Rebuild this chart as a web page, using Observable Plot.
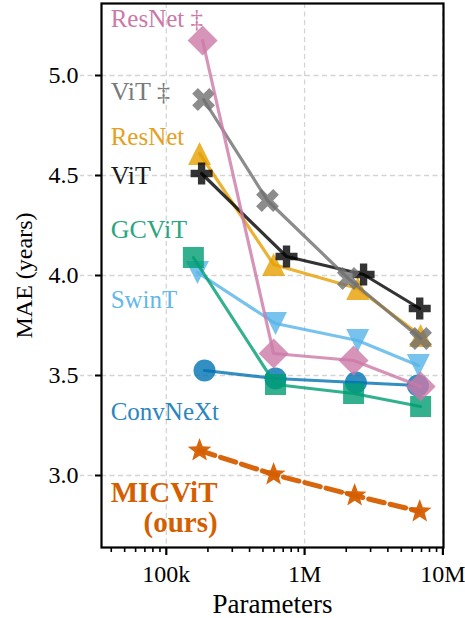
<!DOCTYPE html>
<html><head><meta charset="utf-8">
<script src="https://cdn.jsdelivr.net/npm/d3@7"></script>
<script src="https://cdn.jsdelivr.net/npm/@observablehq/plot@0.6"></script>
<style>body{margin:0;background:#fff;} #chart svg{display:block;}</style>
</head><body><div id="chart"></div>
<script>
// ---- data ----
const resnetDDParams = [183e3, 597e3, 2.26e6, 6.9e6];
const resnetDDMae    = [5.175, 3.61, 3.575, 3.445];
const vitDDParams    = [186e3, 539e3, 2.07e6, 6.9e6];
const vitDDMae       = [4.88, 4.375, 3.985, 3.685];
const resnetParams   = [174e3, 597e3, 2.42e6, 6.9e6];
const resnetMae      = [4.61, 4.055, 3.935, 3.70];
const vitParams      = [180e3, 740e3, 2.67e6, 6.8e6];
const vitMae         = [4.51, 4.095, 4.005, 3.835];
const gcvitParams    = [157e3, 616e3, 2.26e6, 6.9e6];
const gcvitMae       = [4.09, 3.455, 3.41, 3.345];
const swintParams    = [168e3, 616e3, 2.42e6, 6.65e6];
const swintMae       = [4.015, 3.76, 3.675, 3.55];
const convnextParams = [189e3, 616e3, 2.35e6, 6.6e6];
const convnextMae    = [3.525, 3.485, 3.465, 3.45];
const micvitParams   = [174e3, 597e3, 2.30e6, 6.8e6];
const micvitMae      = [3.125, 3.005, 2.90, 2.82];

const yTicks = [3.0, 3.5, 4.0, 4.5, 5.0];
const xTicks = [1e5, 1e6, 1e7];
const xTickLabels = ["100k", "1M", "10M"];

// ---- symbols ----
function polySymbol(pts) {
  return {draw(ctx, size) {
    const r = Math.sqrt(size / Math.PI);
    ctx.moveTo(pts[0][0] * r, pts[0][1] * r);
    for (let i = 1; i < pts.length; ++i) ctx.lineTo(pts[i][0] * r, pts[i][1] * r);
    ctx.closePath();
  }};
}
const a = 1 / 3;
const plusPts = [[-a,-1],[a,-1],[a,-a],[1,-a],[1,a],[a,a],[a,1],[-a,1],[-a,a],[-1,a],[-1,-a],[-a,-a]];
const c45 = Math.SQRT1_2;
const xPts = plusPts.map(([x, y]) => [(x - y) * c45 * 1.05, (x + y) * c45 * 1.05]);
const starPts = d3.range(10).map(i => {
  const ang = -Math.PI / 2 + i * Math.PI / 5, rr = i % 2 ? 0.42 : 1;
  return [rr * Math.cos(ang), rr * Math.sin(ang)];
});
const SYM = {
  diamond: polySymbol([[0,-1],[1,0],[0,1],[-1,0]]),
  square: polySymbol([[-1,-1],[1,-1],[1,1],[-1,1]]),
  triUp: polySymbol([[0,-1],[1,1],[-1,1]]),
  triDown: polySymbol([[0,1],[1,-1],[-1,-1]]),
  plus: polySymbol(plusPts),
  x: polySymbol(xPts),
  star: polySymbol(starPts),
  circle: "circle"
};

// drawing order follows the reference overlaps
const series = [
  {name: "ResNet", params: resnetParams, mae: resnetMae, color: "#E69F00", sym: SYM.triUp, r: 11.5},
  {name: "ViT", params: vitParams, mae: vitMae, color: "#000000", sym: SYM.plus, r: 11},
  {name: "SwinT", params: swintParams, mae: swintMae, color: "#56B4E9", sym: SYM.triDown, r: 11.5},
  {name: "ConvNeXt", params: convnextParams, mae: convnextMae, color: "#0072B2", sym: SYM.circle, r: 11},
  {name: "GCViT", params: gcvitParams, mae: gcvitMae, color: "#009E73", sym: SYM.square, r: 10.5},
  {name: "ViT ‡", params: vitDDParams, mae: vitDDMae, color: "#6f6f6f", sym: SYM.x, r: 11.5},
  {name: "ResNet ‡", params: resnetDDParams, mae: resnetDDMae, color: "#CC79A7", sym: SYM.diamond, r: 15},
];

const rowsOf = s => s.params.map((p, i) => ({model: s.name, params: p, mae: s.mae[i]}));

// label placement (layout, not data)
const SERIF = "Liberation Serif";
const labels = [
  {text: "ResNet ‡", x: 39.6e3, y: 5.283, color: "#CC79A7", size: 25},
  {text: "ViT ‡", x: 39.6e3, y: 4.92, color: "#7a7a7a", size: 26},
  {text: "ResNet", x: 39.6e3, y: 4.695, color: "#E6A020", size: 25},
  {text: "ViT", x: 39.6e3, y: 4.50, color: "#1a1a1a", size: 26},
  {text: "GCViT", x: 39.6e3, y: 4.23, color: "#2AA67F", size: 26},
  {text: "SwinT", x: 39.6e3, y: 3.88, color: "#62B8EA", size: 25},
  {text: "ConvNeXt", x: 39.6e3, y: 3.32, color: "#2A86BE", size: 25}
];

const minor = [];
for (const base of [1e4, 1e5, 1e6]) for (let k = 2; k <= 9; ++k) {
  const v = base * k; if (v > 34000 && !xTicks.includes(v)) minor.push(v);
}

const marks = [
  Plot.gridX(xTicks, {stroke: "#d4d4d4", strokeOpacity: 1, strokeWidth: 1.3, strokeDasharray: "5,3.5"}),
  Plot.gridY(yTicks, {stroke: "#d4d4d4", strokeOpacity: 1, strokeWidth: 1.3, strokeDasharray: "5,3.5"}),
  Plot.axisY(yTicks, {tickSize: 21, stroke: "#d4d4d4", strokeWidth: 1.3, strokeDasharray: "5,3.5", tickFormat: () => "", label: null}),
  Plot.axisY(yTicks, {tickSize: 6, strokeWidth: 2, tickPadding: 17, tickFormat: d3.format(".1f"),
    fontSize: 24, fontFamily: SERIF, label: "MAE (years)", labelAnchor: "center", labelOffset: 87, labelArrow: "none"}),
  Plot.axisX(minor, {tickSize: 5, strokeWidth: 1.6, tickFormat: () => "", label: null}),
  Plot.axisX(xTicks, {tickSize: 8, strokeWidth: 2.2, tickPadding: 9, fontSize: 24, fontFamily: SERIF,
    tickFormat: d => xTickLabels[xTicks.indexOf(d)], label: null}),
];

for (const s of series) {
  const rows = rowsOf(s);
  marks.push(Plot.line(rows, {x: "params", y: "mae", stroke: s.color, strokeWidth: 3.2, strokeOpacity: 0.8}));
  marks.push(Plot.dot(rows, {x: "params", y: "mae", symbol: s.sym, r: s.r, fill: s.color, fillOpacity: 0.8, stroke: "none"}));
}
const micRows = rowsOf({name: "MICViT (ours)", params: micvitParams, mae: micvitMae});
marks.push(Plot.line(micRows, {x: "params", y: "mae", stroke: "#D55E00", strokeWidth: 5, strokeDasharray: "16,6", strokeOpacity: 0.95}));
marks.push(Plot.dot(micRows, {x: "params", y: "mae", symbol: SYM.star, r: 12.5, fill: "#D55E00", fillOpacity: 0.95, stroke: "none"}));

for (const l of labels) {
  marks.push(Plot.text([l], {x: "x", y: "y", text: "text", fill: l.color, fontFamily: SERIF, fontSize: l.size,
    textAnchor: "start", lineAnchor: "middle"}));
}
marks.push(Plot.text(["MICViT"], {x: () => 39.6e3, y: () => 2.915, text: d => d, fill: "#D55E00", fontWeight: "bold", fontFamily: SERIF, fontSize: 29, textAnchor: "start", lineAnchor: "middle"}));
marks.push(Plot.text(["(ours)"], {x: () => 68.5e3, y: () => 2.765, text: d => d, fill: "#D55E00", fontWeight: "bold", fontFamily: SERIF, fontSize: 29, textAnchor: "start", lineAnchor: "middle"}));

marks.push(Plot.frame({stroke: "#000", strokeWidth: 2.2}));
marks.push(Plot.text(["Parameters"], {frameAnchor: "bottom", text: d => d, fontSize: 27, fontFamily: SERIF, dy: 65, lineAnchor: "bottom", fill: "#000"}));

const chart = Plot.plot({
  width: 465, height: 618,
  marginLeft: 101, marginRight: 22, marginTop: 3, marginBottom: 71,
  style: "font-family: 'Liberation Serif', serif; font-size: 24px; color: #000; background: #fff; overflow: visible;",
  x: {type: "log", domain: [34000, 1.01e7]},
  y: {domain: [2.64, 5.36]},
  marks
});
document.getElementById("chart").appendChild(chart);
</script>
</body></html>
